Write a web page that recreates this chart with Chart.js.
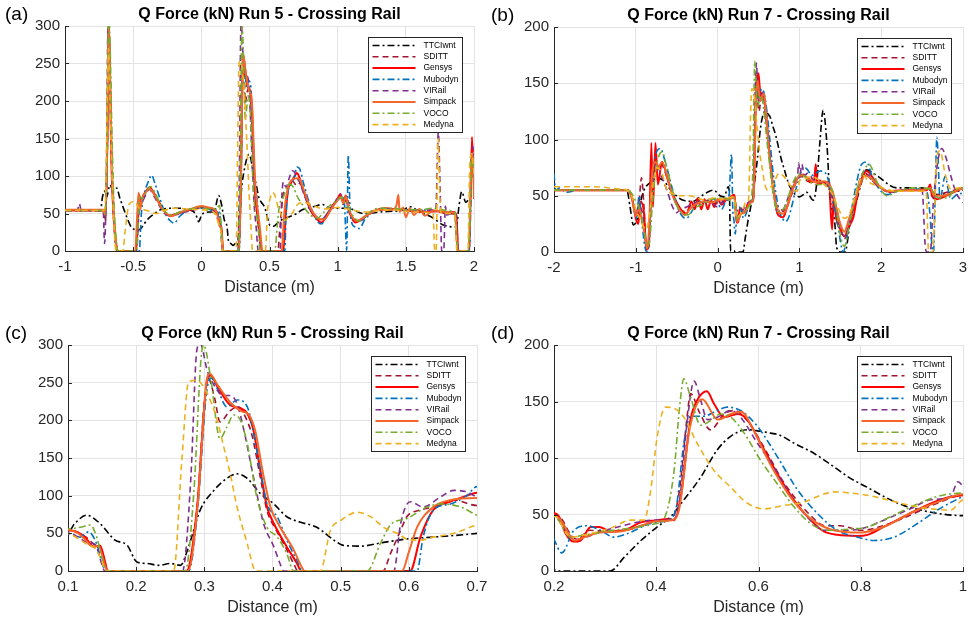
<!DOCTYPE html>
<html>
<head>
<meta charset="utf-8">
<script src="https://cdn.jsdelivr.net/npm/chart.js@4.4.0/dist/chart.umd.min.js"></script>
<style>
  body { margin: 0; background: #fff; width: 968px; height: 620px; position: relative; overflow: hidden; }
  canvas { position: absolute; }
</style>
</head>
<body>
<canvas id="pa" width="484" height="310" style="left:0;top:0"></canvas>
<canvas id="pb" width="484" height="310" style="left:484px;top:0"></canvas>
<canvas id="pc" width="500" height="310" style="left:0;top:310px"></canvas>
<canvas id="pd" width="484" height="310" style="left:484px;top:310px"></canvas>
<script>
// ---- data (distance m, Q force kN) ----
const seriesNames = ["TTCIwnt", "SDITT", "Gensys", "Mubodyn", "VIRail", "Simpack", "VOCO", "Medyna"];

const titleRun5 = "Q Force (kN) Run 5 - Crossing Rail";
const titleRun7 = "Q Force (kN) Run 7 - Crossing Rail";

const xTicksA = [-1, -0.5, 0, 0.5, 1, 1.5, 2];
const xLabelsA = ["-1", "-0.5", "0", "0.5", "1", "1.5", "2"];
const xTicksB = [-2, -1, 0, 1, 2, 3];
const xLabelsB = ["-2", "-1", "0", "1", "2", "3"];
const xTicksC = [0.1, 0.2, 0.3, 0.4, 0.5, 0.6, 0.7];
const xLabelsC = ["0.1", "0.2", "0.3", "0.4", "0.5", "0.6", "0.7"];
const xTicksD = [0.2, 0.4, 0.6, 0.8, 1];
const xLabelsD = ["0.2", "0.4", "0.6", "0.8", "1"];
const yTicks300 = [0, 50, 100, 150, 200, 250, 300];
const yTicks200 = [0, 50, 100, 150, 200];

// Run 5
const r5Ttci = [[-1,54],[-0.74,54],[-0.725,72],[-0.71,80],[-0.695,72],[-0.67,88],[-0.645,80],[-0.62,84],[-0.6,72],[-0.575,59],[-0.54,42],[-0.51,31],[-0.46,28],[-0.43,33],[-0.4,41],[-0.35,49],[-0.3,55],[-0.21,57],[-0.15,57],[-0.11,55],[-0.06,53],[-0.03,44],[-0.02,39],[0,47],[0.02,51],[0.06,52],[0.1,52],[0.11,63],[0.127,74],[0.147,63],[0.169,41],[0.187,34],[0.201,12],[0.216,10],[0.233,7.5],[0.25,10],[0.265,7.5],[0.275,27],[0.294,81],[0.314,107],[0.333,123],[0.348,129],[0.363,123],[0.382,103],[0.402,89],[0.421,72],[0.44,65],[0.465,58],[0.49,41],[0.504,34],[0.529,33],[0.563,38],[0.602,43],[0.636,45],[0.7,50],[0.74,55],[0.82,59],[0.89,62],[0.94,57],[1.07,57],[1.19,50],[1.31,52],[1.48,55],[1.53,59],[1.6,52],[1.7,44],[1.77,35],[1.87,32],[1.89,60],[1.91,79],[1.94,65],[1.98,73],[2,70]];
const r5Sditt = [[-1,54],[-0.72,54],[-0.705,40],[-0.69,130],[-0.68,300],[-0.67,250],[-0.655,115],[-0.64,45],[-0.625,12],[-0.612,0],[-0.48,0],[-0.465,45],[-0.45,70],[-0.43,70],[-0.4,80],[-0.38,84],[-0.35,77],[-0.3,61],[-0.25,49],[-0.22,47],[-0.15,51],[-0.08,55],[0,58],[0.05,57],[0.1,55],[0.115,51],[0.128,44],[0.14,34],[0.148,30],[0.155,8],[0.158,0],[0.275,0],[0.29,90],[0.3,225],[0.306,255],[0.315,230],[0.323,198],[0.338,213],[0.35,218],[0.36,205],[0.37,180],[0.382,125],[0.392,80],[0.405,55],[0.42,30],[0.432,8],[0.437,0],[0.562,0],[0.573,23],[0.588,54],[0.597,72],[0.617,81],[0.636,85],[0.666,94],[0.7,87],[0.72,90],[0.76,75],[0.8,55],[0.86,42],[0.9,44],[0.95,58],[1,68],[1.03,74],[1.05,66],[1.07,70],[1.09,52],[1.12,40],[1.16,40],[1.22,48],[1.3,54],[1.4,56],[1.5,54],[1.6,53],[1.7,54],[1.8,50],[1.86,49],[1.88,0],[1.965,0],[1.98,120],[1.99,140],[2,80]];
const r5Gensys = [[-1,54],[-0.72,54],[-0.705,45],[-0.69,140],[-0.68,310],[-0.672,250],[-0.66,120],[-0.645,50],[-0.63,15],[-0.615,0],[-0.48,0],[-0.465,40],[-0.455,75],[-0.445,60],[-0.43,72],[-0.405,80],[-0.38,85],[-0.35,78],[-0.3,62],[-0.26,50],[-0.23,47],[-0.18,50],[-0.1,54],[-0.03,57],[0,59],[0.05,57],[0.1,54],[0.113,52],[0.125,45],[0.138,32],[0.147,34],[0.155,10],[0.158,0],[0.274,0],[0.289,81],[0.304,253],[0.309,260],[0.319,245],[0.338,220],[0.353,216],[0.363,209],[0.372,187],[0.382,134],[0.392,85],[0.402,63],[0.421,32],[0.436,10],[0.442,0],[0.602,0],[0.617,45],[0.636,81],[0.661,92],[0.685,100],[0.7,104],[0.72,98],[0.75,80],[0.8,55],[0.85,42],[0.88,38],[0.93,50],[0.97,62],[1,70],[1.02,76],[1.04,66],[1.06,74],[1.08,55],[1.1,46],[1.13,38],[1.17,42],[1.25,52],[1.35,57],[1.45,55],[1.55,53],[1.65,52],[1.75,53],[1.8,50],[1.85,52],[1.87,48],[1.885,0],[1.965,0],[1.985,152],[1.993,110],[2,95]];
const r5Mubodyn = [[-1,54],[-0.72,54],[-0.705,45],[-0.69,130],[-0.68,295],[-0.67,250],[-0.655,110],[-0.64,40],[-0.625,10],[-0.612,0],[-0.455,0],[-0.44,50],[-0.42,75],[-0.39,92],[-0.365,101],[-0.34,90],[-0.3,68],[-0.26,48],[-0.22,39],[-0.2,37],[-0.16,46],[-0.1,54],[0,57],[0.05,56],[0.1,50],[0.118,45],[0.13,52],[0.142,36],[0.152,5],[0.156,0],[0.277,0],[0.29,80],[0.303,235],[0.31,256],[0.32,240],[0.333,218],[0.348,227],[0.363,218],[0.377,160],[0.392,89],[0.407,72],[0.421,41],[0.436,14],[0.444,0],[0.612,0],[0.621,45],[0.636,81],[0.661,89],[0.685,100],[0.7,112],[0.72,110],[0.75,90],[0.8,60],[0.85,40],[0.88,36],[0.93,50],[1,68],[1.03,72],[1.05,62],[1.066,1],[1.078,128],[1.09,60],[1.1,40],[1.127,32],[1.16,30],[1.2,42],[1.3,55],[1.4,56],[1.5,54],[1.6,55],[1.7,54],[1.8,52],[1.86,51],[1.88,0],[1.965,0],[1.985,110],[2,95]];
const r5Virail = [[-1,54],[-0.91,54],[-0.895,63],[-0.88,54],[-0.72,54],[-0.71,10],[-0.695,120],[-0.685,300],[-0.675,280],[-0.66,130],[-0.645,50],[-0.63,10],[-0.618,0],[-0.475,0],[-0.46,45],[-0.45,70],[-0.43,68],[-0.4,78],[-0.38,82],[-0.35,74],[-0.3,58],[-0.25,48],[-0.2,48],[-0.12,52],[-0.05,55],[0,58],[0.05,57],[0.1,52],[0.115,45],[0.128,38],[0.14,35],[0.15,8],[0.154,0],[0.268,0],[0.28,120],[0.289,293],[0.294,302],[0.304,267],[0.314,247],[0.328,233],[0.338,233],[0.348,222],[0.358,187],[0.372,125],[0.387,63],[0.402,32],[0.411,10],[0.416,0],[0.578,0],[0.588,63],[0.602,92],[0.621,85],[0.646,98],[0.666,107],[0.685,105],[0.7,98],[0.72,92],[0.76,72],[0.8,55],[0.85,45],[0.88,42],[0.93,52],[0.98,65],[1.02,75],[1.04,62],[1.06,72],[1.08,55],[1.12,42],[1.16,40],[1.22,48],[1.3,55],[1.4,56],[1.5,55],[1.6,54],[1.7,55],[1.72,55],[1.738,158],[1.752,80],[1.763,0],[1.778,0],[1.79,60],[1.8,48],[1.84,50],[1.87,48],[1.885,0],[1.96,0],[1.98,110],[1.99,140],[2,100]];
const r5Simpack = [[-1,55],[-0.72,55],[-0.705,48],[-0.69,150],[-0.68,305],[-0.67,240],[-0.655,110],[-0.64,45],[-0.625,10],[-0.612,0],[-0.485,0],[-0.47,50],[-0.46,78],[-0.45,55],[-0.435,70],[-0.41,78],[-0.38,83],[-0.35,77],[-0.3,60],[-0.25,49],[-0.22,47],[-0.15,52],[-0.08,56],[0,60],[0.05,58],[0.1,55],[0.115,50],[0.125,42],[0.135,33],[0.145,33],[0.155,5],[0.16,0],[0.276,0],[0.29,85],[0.303,250],[0.308,262],[0.32,246],[0.34,222],[0.355,212],[0.365,208],[0.375,185],[0.386,130],[0.397,85],[0.41,60],[0.43,30],[0.443,5],[0.447,0],[0.59,0],[0.6,25],[0.612,58],[0.636,85],[0.66,94],[0.7,97],[0.72,96],[0.75,82],[0.8,58],[0.86,43],[0.9,42],[0.95,55],[1,68],[1.02,72],[1.04,64],[1.06,73],[1.08,58],[1.1,48],[1.14,40],[1.2,46],[1.3,55],[1.4,55],[1.43,60],[1.445,75],[1.455,52],[1.48,58],[1.5,45],[1.53,57],[1.56,48],[1.6,56],[1.64,47],[1.7,54],[1.8,52],[1.86,50],[1.88,0],[1.96,0],[1.98,115],[1.99,130],[2,70]];
const r5Voco = [[-1,54],[-0.72,54],[-0.705,50],[-0.69,160],[-0.68,320],[-0.67,280],[-0.655,150],[-0.64,60],[-0.625,15],[-0.61,0],[-0.475,0],[-0.46,50],[-0.45,72],[-0.43,70],[-0.4,80],[-0.375,86],[-0.34,78],[-0.3,62],[-0.25,50],[-0.22,48],[-0.15,53],[-0.08,56],[0,58],[0.05,56],[0.1,56],[0.118,58],[0.133,61],[0.142,45],[0.152,10],[0.156,0],[0.272,0],[0.285,110],[0.295,280],[0.299,300],[0.309,258],[0.323,176],[0.333,191],[0.343,207],[0.353,200],[0.363,169],[0.377,98],[0.392,58],[0.407,45],[0.421,23],[0.431,0],[0.539,0],[0.558,36],[0.573,61],[0.598,70],[0.627,85],[0.646,89],[0.676,85],[0.7,74],[0.74,62],[0.8,48],[0.85,44],[0.9,52],[0.95,62],[1,68],[1.03,72],[1.05,65],[1.08,58],[1.12,45],[1.16,40],[1.22,50],[1.3,57],[1.4,57],[1.5,55],[1.6,55],[1.7,57],[1.8,54],[1.86,52],[1.88,0],[1.96,0],[1.985,125],[2,110]];
const r5Medyna = [[-1,54],[-0.9,54],[-0.885,58],[-0.87,54],[-0.72,54],[-0.705,60],[-0.69,200],[-0.68,270],[-0.67,200],[-0.655,100],[-0.64,30],[-0.625,0],[-0.575,0],[-0.56,25],[-0.53,62],[-0.49,66],[-0.46,58],[-0.42,55],[-0.38,53],[-0.33,50],[-0.27,54],[-0.2,57],[-0.1,56],[0,55],[0.05,54],[0.1,50],[0.12,40],[0.13,34],[0.14,30],[0.15,12],[0.155,0],[0.255,0],[0.267,147],[0.277,251],[0.289,253],[0.304,236],[0.319,200],[0.326,174],[0.338,129],[0.348,85],[0.363,36],[0.372,5],[0.375,0],[0.47,0],[0.485,54],[0.5,67],[0.524,78],[0.544,72],[0.563,58],[0.583,50],[0.602,41],[0.617,41],[0.636,45],[0.666,50],[0.7,61],[0.75,65],[0.8,62],[0.9,56],[1,58],[1.1,55],[1.2,52],[1.3,54],[1.4,55],[1.5,53],[1.6,52],[1.7,50],[1.712,0],[1.722,0],[1.737,150],[1.75,70],[1.76,50],[1.8,50],[1.86,48],[1.875,0],[1.955,0],[1.97,120],[1.985,130],[2,100]];

// Run 7
const r7Ttci = [[-2,55],[-1.11,55],[-1.07,40],[-1.03,24],[-0.98,30],[-0.94,45],[-0.9,55],[-0.82,62],[-0.76,66],[-0.67,64],[-0.56,54],[-0.42,46],[-0.3,45],[-0.215,49],[-0.1,54],[-0.05,55],[0.03,50],[0.08,49],[0.13,58],[0.145,50],[0.16,1],[0.2,1],[0.213,0],[0.31,0],[0.337,12],[0.37,27],[0.402,39],[0.428,48],[0.454,63],[0.487,83],[0.519,107],[0.545,119],[0.578,125],[0.598,124],[0.624,122],[0.643,120],[0.67,113],[0.709,104],[0.748,92],[0.78,82],[0.813,74],[0.845,66],[0.884,58],[0.917,54],[0.95,51],[1,49],[1.05,51],[1.09,53],[1.17,46],[1.21,60],[1.25,97],[1.29,126],[1.34,92],[1.37,51],[1.43,28],[1.456,4],[1.5,0],[1.557,0],[1.63,31],[1.7,46],[1.76,62],[1.82,73],[1.945,68],[2.19,57],[2.44,57],[2.6,55],[2.68,51],[2.85,53],[3,55]];
const r7Sditt = [[-2,55],[-1.1,55],[-1.05,50],[-1,35],[-0.96,45],[-0.93,66],[-0.9,40],[-0.87,2],[-0.84,8],[-0.8,60],[-0.77,78],[-0.72,80],[-0.68,78],[-0.6,62],[-0.52,45],[-0.45,37],[-0.38,36],[-0.3,44],[-0.22,43],[-0.12,46],[-0.05,43],[0.05,45],[0.12,47],[0.2,50],[0.215,46],[0.23,34],[0.245,28],[0.27,36],[0.3,35],[0.35,37],[0.4,44],[0.43,46],[0.445,70],[0.46,135],[0.467,157],[0.485,140],[0.506,125],[0.533,139],[0.552,142],[0.58,132],[0.61,110],[0.65,78],[0.7,50],[0.73,40],[0.76,40],[0.8,36],[0.85,41],[0.9,50],[0.95,60],[1,67],[1.05,67],[1.1,63],[1.2,64],[1.3,62],[1.4,52],[1.45,40],[1.5,22],[1.55,12],[1.6,20],[1.7,50],[1.8,70],[1.9,63],[2,57],[2.1,53],[2.3,55],[2.5,56],[2.6,57],[2.65,50],[2.75,52],[2.9,55],[3,57]];
const r7Gensys = [[-2,55],[-1.1,55],[-1.05,50],[-1,30],[-0.97,25],[-0.94,45],[-0.9,35],[-0.87,2],[-0.84,5],[-0.81,97],[-0.79,40],[-0.76,97],[-0.73,60],[-0.68,80],[-0.6,62],[-0.54,50],[-0.45,38],[-0.38,34],[-0.32,45],[-0.28,38],[-0.24,48],[-0.2,38],[-0.16,47],[-0.12,38],[-0.08,46],[-0.04,40],[0,47],[0.05,42],[0.1,46],[0.15,48],[0.2,51],[0.21,48],[0.223,33],[0.239,26],[0.252,27],[0.272,39],[0.288,39],[0.311,35],[0.337,36],[0.37,43],[0.402,45],[0.422,46],[0.435,45],[0.448,66],[0.467,134],[0.48,151],[0.499,159],[0.513,148],[0.533,136],[0.559,139],[0.578,134],[0.604,113],[0.637,86],[0.669,63],[0.702,45],[0.728,35],[0.754,32],[0.793,31],[0.813,32],[0.845,39],[0.884,48],[0.923,57],[0.962,64],[1,67],[1.05,69],[1.13,62],[1.18,64],[1.2,78],[1.22,60],[1.3,62],[1.37,62],[1.38,40],[1.4,20],[1.42,50],[1.45,30],[1.5,20],[1.55,14],[1.6,22],[1.66,31],[1.72,55],[1.78,68],[1.82,72],[1.945,61],[2.07,54],[2.27,55],[2.56,55],[2.6,60],[2.62,50],[2.68,47],[2.85,52],[3,57]];
const r7Mubodyn = [[-2,70],[-1.98,55],[-1.93,57],[-1.85,53],[-1.7,55],[-1.1,55],[-1.07,52],[-1.02,40],[-0.99,30],[-0.96,50],[-0.93,30],[-0.89,5],[-0.86,0],[-0.83,20],[-0.79,70],[-0.74,90],[-0.7,92],[-0.64,80],[-0.56,58],[-0.48,38],[-0.42,31],[-0.38,30],[-0.3,38],[-0.22,45],[-0.15,44],[-0.08,48],[0,44],[0.05,38],[0.1,45],[0.14,50],[0.17,87],[0.185,40],[0.2,28],[0.215,16],[0.239,36],[0.265,40],[0.291,36],[0.317,30],[0.343,33],[0.389,42],[0.422,45],[0.438,54],[0.454,113],[0.467,137],[0.493,137],[0.519,142],[0.539,145],[0.565,142],[0.598,128],[0.637,101],[0.676,72],[0.715,51],[0.754,36],[0.793,30],[0.826,27],[0.865,30],[0.911,42],[0.95,54],[1,66],[1.05,76],[1.1,73],[1.15,68],[1.25,72],[1.33,69],[1.38,55],[1.42,40],[1.46,30],[1.5,10],[1.535,0],[1.56,5],[1.62,30],[1.7,62],[1.76,78],[1.82,80],[1.9,65],[2.07,51],[2.2,54],[2.4,56],[2.55,55],[2.6,30],[2.62,5],[2.64,0],[2.66,50],[2.68,102],[2.72,47],[2.78,67],[2.85,47],[2.95,52],[3,52]];
const r7Virail = [[-2,55],[-1.1,55],[-1.05,48],[-1,33],[-0.96,40],[-0.92,35],[-0.88,10],[-0.85,5],[-0.82,40],[-0.78,72],[-0.75,80],[-0.7,70],[-0.62,55],[-0.55,40],[-0.5,35],[-0.45,38],[-0.38,40],[-0.3,43],[-0.2,45],[-0.1,45],[0,40],[0.05,44],[0.1,45],[0.15,48],[0.2,49],[0.24,28],[0.3,36],[0.4,45],[0.43,45],[0.445,60],[0.461,134],[0.474,168],[0.487,151],[0.5,134],[0.519,136],[0.546,142],[0.565,136],[0.598,113],[0.63,92],[0.663,66],[0.695,48],[0.728,36],[0.767,36],[0.806,38],[0.845,45],[0.897,55],[0.937,63],[0.976,66],[0.99,79],[1.01,70],[1.03,78],[1.06,68],[1.1,70],[1.2,62],[1.3,62],[1.38,55],[1.45,35],[1.5,20],[1.55,14],[1.6,22],[1.7,55],[1.8,72],[1.9,62],[2,57],[2.1,53],[2.3,55],[2.5,55],[2.54,4],[2.56,0],[2.6,0],[2.64,47],[2.74,92],[2.8,82],[2.85,68],[2.92,52],[3,44]];
const r7Simpack = [[-2,55],[-1.1,55],[-1.05,48],[-1,32],[-0.96,38],[-0.93,30],[-0.89,15],[-0.86,3],[-0.83,30],[-0.8,70],[-0.76,80],[-0.72,76],[-0.68,80],[-0.62,68],[-0.55,50],[-0.47,38],[-0.4,33],[-0.34,38],[-0.28,42],[-0.22,44],[-0.15,45],[-0.08,44],[0,46],[0.1,47],[0.15,47],[0.2,49],[0.215,44],[0.23,32],[0.24,27],[0.26,30],[0.29,34],[0.33,35],[0.37,40],[0.4,44],[0.43,45],[0.445,55],[0.465,125],[0.49,152],[0.52,134],[0.546,139],[0.566,141],[0.59,125],[0.62,97],[0.66,67],[0.7,47],[0.74,37],[0.8,34],[0.85,40],[0.9,52],[0.95,61],[1,68],[1.05,68],[1.1,66],[1.2,62],[1.3,63],[1.4,55],[1.45,40],[1.5,25],[1.55,18],[1.6,28],[1.7,50],[1.8,68],[1.9,64],[2,57],[2.1,54],[2.3,55],[2.5,55],[2.6,57],[2.65,50],[2.75,50],[2.9,54],[3,57]];
const r7Voco = [[-2,55],[-1.1,55],[-1.05,52],[-1,45],[-0.95,38],[-0.9,20],[-0.86,5],[-0.83,10],[-0.8,40],[-0.75,75],[-0.68,89],[-0.62,75],[-0.52,45],[-0.44,35],[-0.36,33],[-0.3,38],[-0.2,42],[-0.1,46],[0,48],[0.1,48],[0.15,46],[0.2,48],[0.233,30],[0.26,32],[0.3,35],[0.4,42],[0.415,46],[0.435,89],[0.445,142],[0.454,170],[0.467,154],[0.487,129],[0.506,133],[0.526,139],[0.546,136],[0.572,122],[0.604,98],[0.637,77],[0.669,57],[0.702,42],[0.735,36],[0.774,37],[0.813,39],[0.858,48],[0.904,58],[0.95,66],[1,69],[1.05,68],[1.1,64],[1.2,60],[1.3,60],[1.4,55],[1.45,38],[1.5,15],[1.55,5],[1.6,20],[1.7,55],[1.8,74],[1.85,78],[1.95,62],[2.07,50],[2.2,54],[2.4,57],[2.6,56],[2.7,48],[2.8,48],[2.9,55],[3,57]];
const r7Medyna = [[-2,58],[-1.5,58],[-1.2,56],[-1.1,55],[-1.05,50],[-1,38],[-0.95,30],[-0.9,22],[-0.87,20],[-0.83,35],[-0.78,65],[-0.74,75],[-0.68,70],[-0.62,55],[-0.55,52],[-0.45,50],[-0.35,50],[-0.25,48],[-0.15,46],[-0.05,48],[0.05,47],[0.12,48],[0.2,49],[0.233,30],[0.27,33],[0.311,38],[0.35,45],[0.376,45],[0.389,71],[0.402,119],[0.418,145],[0.435,144],[0.454,136],[0.48,113],[0.513,89],[0.546,74],[0.578,60],[0.611,55],[0.65,58],[0.689,61],[0.721,67],[0.748,70],[0.78,69],[0.813,67],[0.852,63],[0.897,58],[0.937,55],[0.976,54],[1,63],[1.05,65],[1.15,67],[1.3,60],[1.4,52],[1.48,38],[1.55,30],[1.62,35],[1.7,55],[1.78,68],[1.85,62],[1.95,59],[2.1,55],[2.3,54],[2.55,54],[2.58,0],[2.63,0],[2.68,85],[2.72,90],[2.78,70],[2.85,56],[3,58]];

const run5 = [r5Ttci, r5Sditt, r5Gensys, r5Mubodyn, r5Virail, r5Simpack, r5Voco, r5Medyna];
const run7 = [r7Ttci, r7Sditt, r7Gensys, r7Mubodyn, r7Virail, r7Simpack, r7Voco, r7Medyna];

// ---- styles (MATLAB look) ----
const FONT = '"Liberation Sans", Arial, Helvetica, sans-serif';
const DASHED = [6, 4];
const DASHDOT = [7, 3, 2, 3];
const seriesColors = ["#000000", "#A2142F", "#FF0000", "#0072BD", "#7E2F8E", "#F4672B", "#77AC30", "#EDB120"];
const seriesDash = [DASHDOT, DASHED, [], DASHDOT, DASHED, [], DASHDOT, DASHED];
const seriesWidth = [1.6, 1.6, 2, 1.6, 1.6, 2, 1.6, 1.6];

// draws the MATLAB-style extras: inward ticks, title, panel tag, axis label, legend box
const decor = {
    id: "decor",
    afterDraw(chart, args, opts) {
        let ctx = chart.ctx;
        let a = chart.chartArea;
        let xs = chart.scales.x, ys = chart.scales.y;
        ctx.save();

        ctx.strokeStyle = "#262626";
        ctx.lineWidth = 1;
        ctx.setLineDash([]);
        ctx.beginPath();
        xs.ticks.forEach(t => {
            let px = Math.round(xs.getPixelForValue(t.value)) + 0.5;
            ctx.moveTo(px, a.bottom);
            ctx.lineTo(px, a.bottom - 4);
        });
        ys.ticks.forEach(t => {
            let py = Math.round(ys.getPixelForValue(t.value)) + 0.5;
            ctx.moveTo(a.left, py);
            ctx.lineTo(a.left + 4, py);
        });
        ctx.stroke();

        let cx = (a.left + a.right) / 2;
        ctx.textBaseline = "middle";
        ctx.fillStyle = "#000";
        ctx.textAlign = "center";
        ctx.font = "bold 16px " + FONT;
        ctx.fillText(opts.title, cx, a.top - 11);

        ctx.textAlign = "left";
        ctx.font = "19px " + FONT;
        ctx.fillText(opts.tag, opts.tagX, a.top - 11);

        ctx.textAlign = "center";
        ctx.fillStyle = "#262626";
        ctx.font = "16px " + FONT;
        ctx.fillText("Distance (m)", cx, a.bottom + 37);

        // legend box
        let bw = 94, bh = 95;
        let bx = Math.round(a.right - 106) + 0.5;
        let by = Math.round(a.top + 11) + 0.5;
        ctx.fillStyle = "#fff";
        ctx.fillRect(bx, by, bw, bh);
        ctx.strokeStyle = "#262626";
        ctx.lineWidth = 1;
        ctx.strokeRect(bx, by, bw, bh);
        ctx.font = "8.5px " + FONT;
        ctx.textAlign = "left";
        chart.data.datasets.forEach((ds, i) => {
            let ry = by + 8 + i * 11.3;
            ctx.strokeStyle = ds.borderColor;
            ctx.lineWidth = ds.borderWidth;
            ctx.setLineDash(ds.borderDash);
            ctx.beginPath();
            ctx.moveTo(bx + 4, ry);
            ctx.lineTo(bx + 47, ry);
            ctx.stroke();
            ctx.fillStyle = "#000";
            ctx.fillText(ds.label, bx + 55, ry);
        });
        ctx.restore();
    }
};

function makePanel(canvasId, p) {
    let canvas = document.getElementById(canvasId);
    let W = canvas.width, H = canvas.height;

    let datasets = p.run.map((pts, i) => ({
        label: seriesNames[i],
        data: pts.map(v => ({ x: v[0], y: v[1] })),
        borderColor: seriesColors[i],
        borderWidth: seriesWidth[i],
        borderDash: seriesDash[i],
        pointRadius: 0,
        fill: false,
        cubicInterpolationMode: "monotone",
        order: 8 - i
    }));

    let tickFont = { family: FONT, size: 15 };

    new Chart(canvas, {
        type: "line",
        data: { datasets: datasets },
        options: {
            responsive: false,
            animation: false,
            events: [],
            layout: { padding: { left: 0, right: W - p.area.right, top: p.area.top, bottom: 0 } },
            plugins: {
                legend: { display: false },
                tooltip: { enabled: false },
                decor: { title: p.title, tag: p.tag, tagX: p.tagX }
            },
            scales: {
                x: {
                    type: "linear",
                    min: p.xTicks[0],
                    max: p.xTicks[p.xTicks.length - 1],
                    afterBuildTicks: s => { s.ticks = p.xTicks.map(v => ({ value: v })); },
                    afterFit: s => { s.height = H - p.area.bottom; s.paddingLeft = 0; s.paddingRight = 0; },
                    ticks: {
                        autoSkip: false, maxRotation: 0, padding: 7,
                        color: "#262626", font: tickFont,
                        callback: (v, i) => p.xLabels[i]
                    },
                    grid: { color: "#e3e3e3", drawTicks: false },
                    border: { color: "#262626", width: 1 }
                },
                y: {
                    type: "linear",
                    min: 0,
                    max: p.yTicks[p.yTicks.length - 1],
                    afterBuildTicks: s => { s.ticks = p.yTicks.map(v => ({ value: v })); },
                    afterFit: s => { s.width = p.area.left; s.paddingTop = 0; s.paddingBottom = 0; },
                    ticks: {
                        autoSkip: false, padding: 5,
                        color: "#262626", font: tickFont,
                        callback: v => String(v)
                    },
                    grid: { color: "#e3e3e3", drawTicks: false },
                    border: { color: "#262626", width: 1 }
                }
            }
        },
        plugins: [decor]
    });
}

makePanel("pa", { run: run5, title: titleRun5, tag: "(a)", tagX: 5, xTicks: xTicksA, xLabels: xLabelsA, yTicks: yTicks300,
    area: { left: 65, right: 474, top: 26, bottom: 251 } });
makePanel("pb", { run: run7, title: titleRun7, tag: "(b)", tagX: 7, xTicks: xTicksB, xLabels: xLabelsB, yTicks: yTicks200,
    area: { left: 70, right: 479, top: 27, bottom: 252 } });
makePanel("pc", { run: run5, title: titleRun5, tag: "(c)", tagX: 5, xTicks: xTicksC, xLabels: xLabelsC, yTicks: yTicks300,
    area: { left: 68, right: 477, top: 35, bottom: 261 } });
makePanel("pd", { run: run7, title: titleRun7, tag: "(d)", tagX: 7, xTicks: xTicksD, xLabels: xLabelsD, yTicks: yTicks200,
    area: { left: 70, right: 479, top: 35, bottom: 261 } });
</script>
</body>
</html>
